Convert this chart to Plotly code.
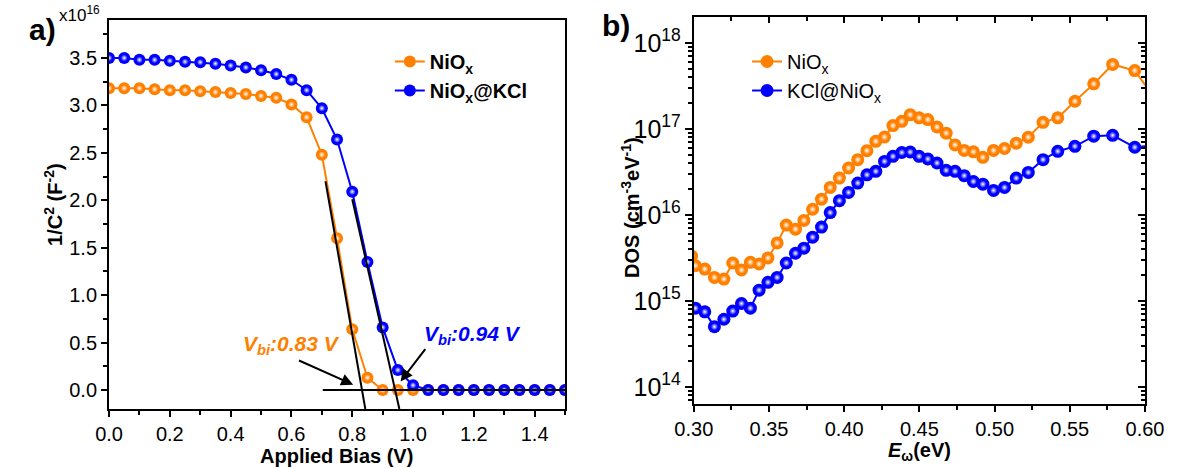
import plotly.graph_objects as go

# ---------------- data : panel a (Mott-Schottky) ----------------
bias_v = [0.00, 0.05, 0.10, 0.15, 0.20, 0.25, 0.30, 0.35, 0.40, 0.45,
          0.50, 0.55, 0.60, 0.65, 0.70, 0.75, 0.80, 0.85, 0.90, 0.95,
          1.00, 1.05, 1.10, 1.15, 1.20, 1.25, 1.30, 1.35, 1.40, 1.45, 1.50]
inv_c2_nio = [3.18, 3.18, 3.18, 3.17, 3.16, 3.16, 3.15, 3.14, 3.13, 3.12,
              3.10, 3.08, 3.01, 2.875, 2.48, 1.60, 0.64, 0.13, 0.00, 0.00,
              0.00, 0.00, 0.00, 0.00, 0.00, 0.00, 0.00, 0.00, 0.00, 0.00, 0.00]
inv_c2_kcl = [3.50, 3.50, 3.48, 3.48, 3.47, 3.46, 3.455, 3.44, 3.42, 3.40,
              3.37, 3.33, 3.27, 3.16, 2.97, 2.64, 2.09, 1.35, 0.66, 0.21,
              0.05, 0.00, 0.00, 0.00, 0.00, 0.00, 0.00, 0.00, 0.00, 0.00, 0.00]
fit_nio_x = [0.712, 0.843]
fit_nio_y = [2.20, -0.20]
fit_kcl_x = [0.800, 0.955]
fit_kcl_y = [2.01, -0.20]
base_x = [0.703, 1.50]
base_y = [0.0, 0.0]
vbi_nio_text = "V<sub>bi</sub>:0.83 V"
vbi_kcl_text = "V<sub>bi</sub>:0.94 V"

# ---------------- data : panel b (DOS) ----------------
e_nio = [0.2985, 0.3010, 0.3073, 0.3137, 0.3200, 0.3259, 0.3317, 0.3376, 0.3434, 0.3493,
         0.3554, 0.3615, 0.3676, 0.3732, 0.3790, 0.3849, 0.3907, 0.3968, 0.4029, 0.4090,
         0.4151, 0.4210, 0.4268, 0.4324, 0.4383, 0.4439, 0.4498, 0.4556, 0.4617, 0.4678,
         0.4737, 0.4798, 0.4859, 0.4922, 0.4993, 0.5066, 0.5144, 0.5224, 0.5322, 0.5420,
         0.5534, 0.5659, 0.5785, 0.5932, 0.6070]
dos_nio = [3.3e15, 2.56e15, 2.34e15, 1.87e15, 1.79e15, 2.75e15, 2.28e15, 2.80e15, 2.68e15, 3.15e15,
           4.71e15, 7.6e15, 6.8e15, 8.6e15, 1.16e16, 1.52e16, 2.08e16, 2.67e16, 3.50e16, 4.38e16,
           5.57e16, 7.15e16, 8.03e16, 1.09e17, 1.22e17, 1.46e17, 1.34e17, 1.28e17, 1.05e17, 8.9e16,
           6.5e16, 5.6e16, 5.4e16, 4.66e16, 5.6e16, 5.9e16, 6.8e16, 8.0e16, 1.19e17, 1.34e17,
           2.09e17, 3.33e17, 5.6e17, 4.76e17, 2.2e17]
e_kcl = [0.3010, 0.3073, 0.3137, 0.3200, 0.3259, 0.3317, 0.3376, 0.3434, 0.3493,
         0.3554, 0.3615, 0.3676, 0.3732, 0.3790, 0.3849, 0.3907, 0.3968, 0.4029, 0.4090,
         0.4151, 0.4210, 0.4268, 0.4324, 0.4383, 0.4439, 0.4498, 0.4556, 0.4617, 0.4678,
         0.4737, 0.4798, 0.4859, 0.4922, 0.4993, 0.5066, 0.5144, 0.5224, 0.5322, 0.5420,
         0.5534, 0.5659, 0.5785, 0.5932, 0.6070]
dos_kcl = [8.2e14, 7.44e14, 5.0e14, 6.1e14, 7.6e14, 9.3e14, 8.2e14, 1.33e15, 1.64e15,
           1.87e15, 2.75e15, 3.57e15, 4.09e15, 5.5e15, 7.2e15, 1.06e16, 1.46e16, 1.82e16, 2.34e16,
           2.92e16, 3.2e16, 4.18e16, 4.78e16, 5.3e16, 5.37e16, 4.78e16, 4.46e16, 4.0e16, 3.29e16,
           3.2e16, 2.85e16, 2.44e16, 2.27e16, 1.92e16, 2.08e16, 2.67e16, 3.11e16, 4.38e16, 5.47e16,
           6.26e16, 8.2e16, 8.4e16, 6.1e16, 6.4e16]

# ---------------- styling ----------------
W, H = 1194, 468
ORANGE = "#FF8000"
BLUE = "#0000FF"
FONT = "Liberation Sans, Arial, sans-serif"
TICKF = 20


def fx(px):
    return px / W


def fy(py):
    return 1 - py / H


A_L, A_R, A_T, A_B = 93, 564, 20, 409
B_L, B_R, B_T, B_B = 697, 1163, 17, 404

fig = go.Figure()


def add_series(x, y, color, name, xa, ya, legend, msize):
    fig.add_trace(go.Scatter(
        x=x, y=y, mode="lines+markers", name=name, xaxis=xa, yaxis=ya, legend=legend,
        line=dict(color=color, width=2),
        marker=dict(color=color, size=msize, line=dict(width=0)),
    ))
    # glossy highlight: white centre fading to the series colour
    fig.add_trace(go.Scatter(
        x=x, y=y, mode="markers", showlegend=False, hoverinfo="skip", xaxis=xa, yaxis=ya,
        marker=dict(color=color, size=msize * 0.55, line=dict(width=0),
                    gradient=dict(type="radial", color="white")),
    ))


# panel a
add_series(bias_v, inv_c2_nio, ORANGE, "<b>NiO<sub>x</sub></b>", "x", "y", "legend", 12)
add_series(bias_v, inv_c2_kcl, BLUE, "<b>NiO<sub>x</sub>@KCl</b>", "x", "y", "legend", 12)
for xs, ys in ((fit_nio_x, fit_nio_y), (fit_kcl_x, fit_kcl_y), (base_x, base_y)):
    fig.add_trace(go.Scatter(x=xs, y=ys, mode="lines", showlegend=False, hoverinfo="skip",
                             xaxis="x", yaxis="y", line=dict(color="black", width=2)))

# panel b
add_series(e_nio, dos_nio, ORANGE, "NiO<sub>x</sub>", "x2", "y2", "legend2", 13)
add_series(e_kcl, dos_kcl, BLUE, "KCl@NiO<sub>x</sub>", "x2", "y2", "legend2", 13)

axis_common = dict(showgrid=False, zeroline=False, showline=True, linecolor="black",
                   linewidth=2, tickcolor="black", tickwidth=2,
                   tickfont=dict(family=FONT, size=TICKF, color="black"))

fig.update_layout(
    width=W, height=H, margin=dict(l=0, r=0, t=0, b=0),
    paper_bgcolor="white", plot_bgcolor="white",
    font=dict(family=FONT, color="black"),
    xaxis=dict(domain=[fx(A_L), fx(A_R)], anchor="y", range=[0, 1.5], tick0=0, dtick=0.2,
               tickformat=".1f", ticks="outside", ticklen=6, mirror=True,
               minor=dict(ticks="outside", dtick=0.1, ticklen=4, tickwidth=2, tickcolor="black"),
               **axis_common),
    yaxis=dict(domain=[fy(A_B), fy(A_T)], anchor="x", range=[-0.2, 3.9], tick0=0, dtick=0.5,
               tickformat=".1f", ticks="outside", ticklen=6, mirror=True,
               minor=dict(ticks="outside", dtick=0.25, ticklen=4, tickwidth=2, tickcolor="black"),
               **axis_common),
    xaxis2=dict(domain=[fx(B_L), fx(B_R)], anchor="y2", range=[0.3, 0.6], tick0=0.3, dtick=0.05,
                tickformat=".2f", ticks="outside", ticklen=6, mirror=True,
                minor=dict(ticks="outside", dtick=0.025, ticklen=4, tickwidth=2, tickcolor="black"),
                **axis_common),
    yaxis2=dict(domain=[fy(B_B), fy(B_T)], anchor="x2", type="log", range=[13.8, 18.3], dtick=1,
                exponentformat="power", ticks="outside", ticklen=7, mirror=True,
                minor=dict(ticks="outside", ticklen=4, tickwidth=1.5, tickcolor="black", dtick="D1"),
                **axis_common),
    xaxis3=dict(overlaying="x2", anchor="y2", side="top", range=[0.3, 0.6], tick0=0.3, dtick=0.05,
                ticks="inside", ticklen=6, tickwidth=2, tickcolor="black", showticklabels=False,
                showline=False, showgrid=False, zeroline=False,
                minor=dict(ticks="inside", dtick=0.025, ticklen=4, tickwidth=2, tickcolor="black")),
    yaxis3=dict(overlaying="y2", anchor="x2", side="right", type="log", range=[13.8, 18.3], dtick=1,
                ticks="inside", ticklen=7, tickwidth=2, tickcolor="black", showticklabels=False,
                showline=False, showgrid=False, zeroline=False,
                minor=dict(ticks="inside", ticklen=4, tickwidth=1.5, tickcolor="black", dtick="D1")),
    legend=dict(x=fx(383), y=fy(42), xanchor="left", yanchor="top", bgcolor="rgba(0,0,0,0)",
                font=dict(family=FONT, size=20, color="black"), tracegroupgap=0),
    legend2=dict(x=fx(752), y=fy(42), xanchor="left", yanchor="top", bgcolor="rgba(0,0,0,0)",
                 font=dict(family=FONT, size=20, color="black"), tracegroupgap=0),
    showlegend=True,
)

# invisible helper traces so that the mirrored tick axes are drawn
fig.add_trace(go.Scatter(x=e_kcl, y=dos_kcl, xaxis="x3", yaxis="y2", mode="lines",
                         line=dict(width=0), opacity=0, showlegend=False, hoverinfo="skip"))
fig.add_trace(go.Scatter(x=e_kcl, y=dos_kcl, xaxis="x2", yaxis="y3", mode="lines",
                         line=dict(width=0), opacity=0, showlegend=False, hoverinfo="skip"))

ann = []


def paper_text(text, x, y, size, angle=0, color="black"):
    ann.append(dict(text=text, x=fx(x), y=fy(y), xref="paper", yref="paper", showarrow=False,
                    xanchor="center", yanchor="middle", textangle=angle,
                    font=dict(family=FONT, size=size, color=color)))


paper_text("<b>a)</b>", 24, 29, 30)
paper_text("<b>b)</b>", 617, 25, 30)
paper_text("x10<sup>16</sup>", 63, 14, 17)
paper_text("<b>1/C<sup>2</sup> (F<sup>-2</sup>)</b>", 35, 205, 20, -90)
paper_text("<b>Applied Bias (V)</b>", 328, 456, 20)
paper_text("<b>DOS (cm<sup>-3</sup>eV<sup>-1</sup>)</b>", 631, 207, 20, -90)
paper_text("<b><i>E</i><sub>ω</sub>(eV)</b>", 930, 451, 20)

ann.append(dict(text="<b><i>" + vbi_nio_text + "</i></b>", x=0.599, y=0.476, xref="x", yref="y",
                showarrow=False, font=dict(family=FONT, size=21, color=ORANGE)))
ann.append(dict(text="<b><i>" + vbi_kcl_text + "</i></b>", x=1.197, y=0.58, xref="x", yref="y",
                showarrow=False, font=dict(family=FONT, size=21, color=BLUE)))
ann.append(dict(text="", x=0.803, y=0.056, ax=0.620, ay=0.318, xref="x", yref="y",
                axref="x", ayref="y", showarrow=True, arrowhead=2, arrowsize=1.2,
                arrowwidth=2, arrowcolor="black"))
ann.append(dict(text="", x=0.959, y=0.091, ax=1.044, ay=0.448, xref="x", yref="y",
                axref="x", ayref="y", showarrow=True, arrowhead=2, arrowsize=1.2,
                arrowwidth=2, arrowcolor="black"))
fig.update_layout(annotations=ann)

fig.write_html("out.html", include_plotlyjs=True, full_html=True,
               config={"displayModeBar": False},
               post_script="document.body.style.margin='0';document.body.style.overflow='hidden';")
